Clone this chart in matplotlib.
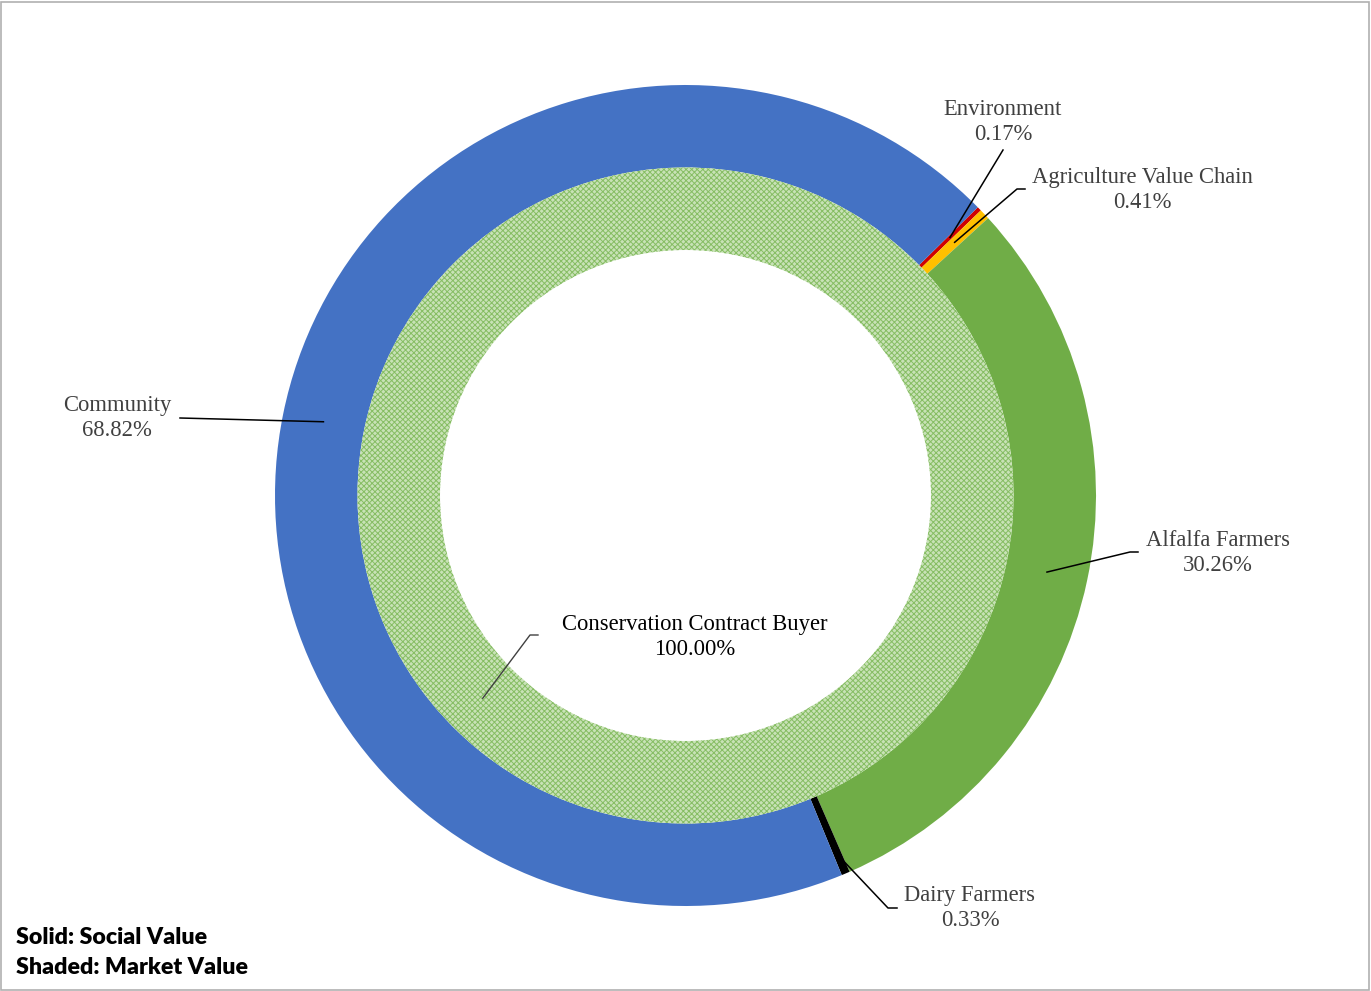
import numpy as np
import matplotlib
matplotlib.use("Agg")
import matplotlib.pyplot as plt
from matplotlib.patches import Rectangle

# ---- data ----
outer_labels = ["Environment", "Agriculture Value Chain", "Alfalfa Farmers", "Dairy Farmers", "Community"]
outer_values = [0.17, 0.41, 30.26, 0.33, 68.82]
outer_colors = ["#d00000", "#ffc000", "#70ad47", "#000000", "#4472c4"]
inner_labels = ["Conservation Contract Buyer"]
inner_values = [100.00]
legend_lines = ["Solid: Social Value", "Shaded: Market Value"]

W, H = 1371, 991
plt.rcParams['hatch.linewidth'] = 0.7
fig = plt.figure(figsize=(W / 100, H / 100), dpi=100)
ax = fig.add_axes([0, 0, 1, 1])

cx, cy = 685.5, H - 495.5
R_out, R_mid, R_in = 410.5, 328, 245.5
start = 44.6

ax.pie(outer_values, radius=R_out, center=(cx, cy), startangle=start, counterclock=False,
       colors=outer_colors, wedgeprops=dict(width=R_out - R_mid, linewidth=0))
ax.pie(inner_values, radius=R_mid, center=(cx, cy), startangle=45, counterclock=False,
       colors=["#c8e2b6"],
       wedgeprops=dict(width=R_mid - R_in, linewidth=0, hatch="xxxxxx", edgecolor="#86bd63"))

ax.set_xlim(0, W)
ax.set_ylim(0, H)
ax.set_aspect("equal")
ax.axis("off")

# mid angles
tot = sum(outer_values)
angs = []
a = start
for v in outer_values:
    sweep = v / tot * 360
    angs.append(a - sweep / 2)
    a -= sweep

serif = "Liberation Serif"
tcol = "#404040"
fs = 16.3
ls = 1.3

# label positions (layout) : text center, elbow points, leader radius
layout = {
    "Environment": ((1003, 122), [(1003, 150)], R_out - 41),
    "Agriculture Value Chain": ((1142, 190), [(1025, 189), (1017, 189)], R_out - 41),
    "Alfalfa Farmers": ((1218, 553), [(1138, 552), (1130, 552)], R_out - 41),
    "Dairy Farmers": ((970, 908), [(897, 908), (888, 908)], R_out - 20),
    "Community": ((117, 418), [(180, 418)], R_out - 41),
}
for lab, val, ang in zip(outer_labels, outer_values, angs):
    (tx, ty), pts, r = layout[lab]
    ax.text(tx, H - ty, f"{lab}\n{val:.2f}%", ha="center", va="center", fontsize=fs,
            family=serif, color=tcol, linespacing=ls)
    ex = cx + r * np.cos(np.radians(ang))
    ey = cy + r * np.sin(np.radians(ang))
    xs = [p[0] for p in pts] + [ex]
    ys = [H - p[1] for p in pts] + [ey]
    ax.plot(xs, ys, color="black", lw=1.1)

# inner label
ang_in = 45 - 180
r_in_mid = (R_mid + R_in) / 2
ax.text(695, H - 637, f"{inner_labels[0]}\n{inner_values[0]:.2f}%", ha="center", va="center",
        fontsize=fs, family=serif, color="black", linespacing=ls)
ex = cx + r_in_mid * np.cos(np.radians(ang_in))
ey = cy + r_in_mid * np.sin(np.radians(ang_in))
ax.plot([538, 530, ex], [H - 635, H - 635, ey], color="#404040", lw=1.0)

# legend text
ax.text(16, H - 938, legend_lines[0], ha="left", va="center", fontsize=16.7, family="Lato",
        weight="heavy", color="black")
ax.text(16, H - 968, legend_lines[1], ha="left", va="center", fontsize=16.7, family="Lato",
        weight="heavy", color="black")

# border
fig.patches.append(Rectangle((1, 1), W - 3, H - 3, transform=None, fill=False,
                             edgecolor="#b0b0b0", lw=1.2))

fig.savefig("out.png", dpi=100)
